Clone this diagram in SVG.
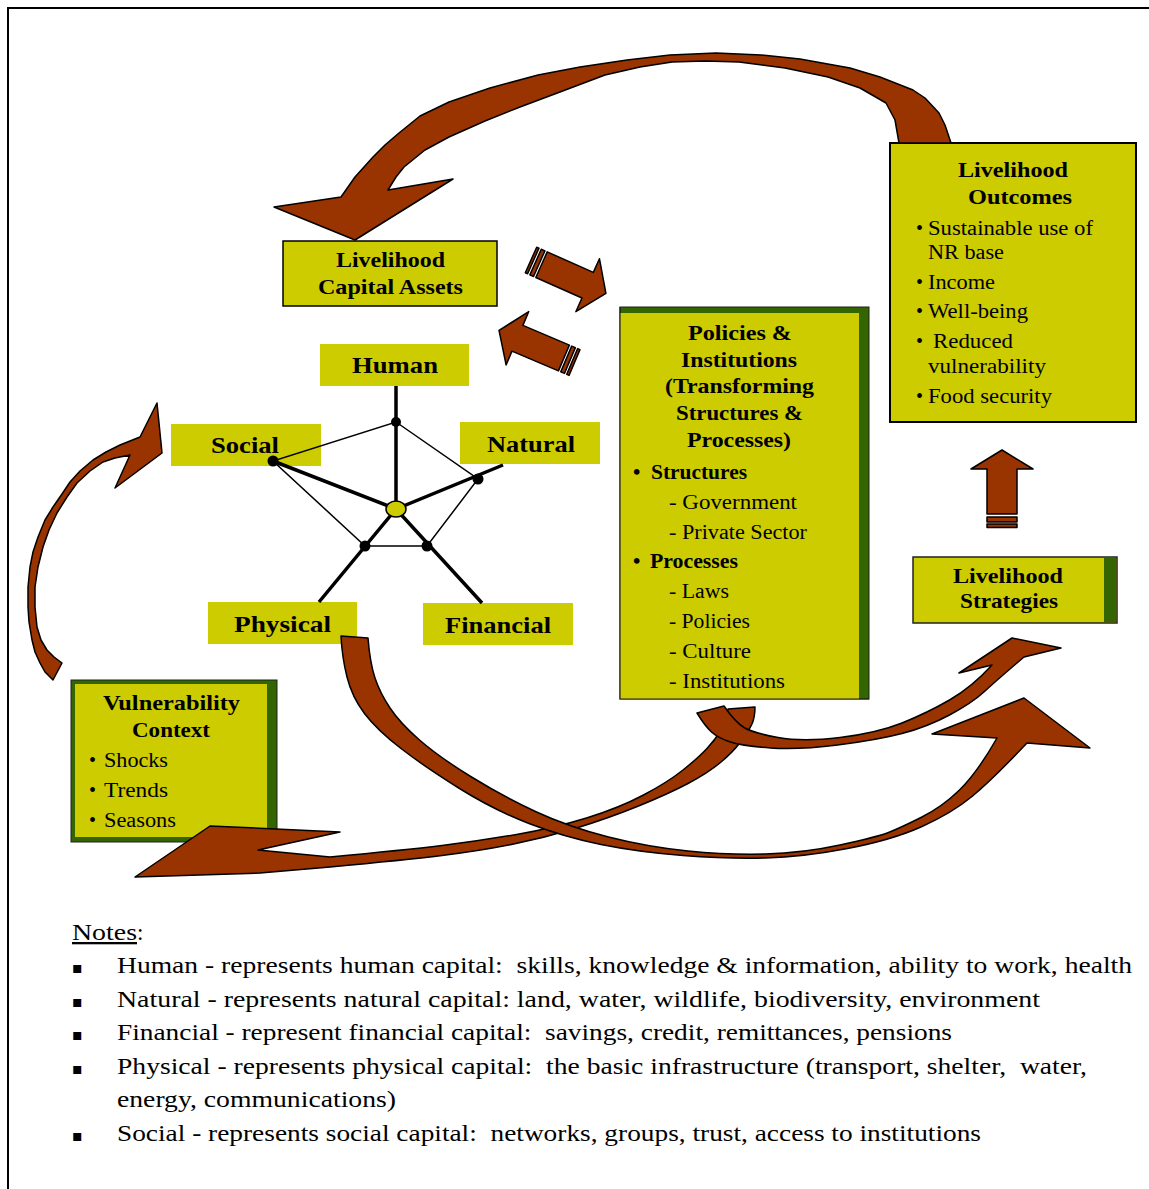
<svg xmlns="http://www.w3.org/2000/svg" width="1149" height="1189" viewBox="0 0 1149 1189">
<style>
.bx{fill:#CCCC00}
.gr{fill:#336600}
.ar{fill:#993300;stroke:#000;stroke-width:1.5;stroke-linejoin:round}
text{font-family:"Liberation Serif","Times New Roman",serif;fill:#000}
.h{font-weight:bold;font-size:21px}
.lab{font-weight:bold;font-size:23px}
.t{font-size:20px}
.n{font-size:23px;white-space:pre}
.bl{font-family:"DejaVu Sans",sans-serif;font-size:16px}
.thick{stroke:#000;stroke-width:3.5;fill:none}
.thin{stroke:#000;stroke-width:1.5;fill:none}
</style>
<rect width="1149" height="1189" fill="#fff"/>
<path d="M8,1189 V8 H1149" fill="none" stroke="#000" stroke-width="2"/>

<g id="capital-assets">
<rect x="283" y="241" width="214" height="65" class="bx" stroke="#000" stroke-width="1.5"/>
<text class="h" x="336" y="267" textLength="109" lengthAdjust="spacingAndGlyphs">Livelihood</text>
<text class="h" x="318" y="294" textLength="145" lengthAdjust="spacingAndGlyphs">Capital Assets</text>
</g>

<g id="human"><rect x="320" y="344" width="149" height="42" class="bx"/><text class="lab" x="352" y="373" textLength="86" lengthAdjust="spacingAndGlyphs">Human</text></g>
<g id="social"><rect x="171" y="424" width="150" height="42" class="bx"/><text class="lab" x="211" y="453" textLength="68" lengthAdjust="spacingAndGlyphs">Social</text></g>
<g id="natural"><rect x="460" y="422" width="140" height="42" class="bx"/><text class="lab" x="487" y="452" textLength="88" lengthAdjust="spacingAndGlyphs">Natural</text></g>
<g id="physical"><rect x="208" y="602" width="149" height="42" class="bx"/><text class="lab" x="234" y="632" textLength="97" lengthAdjust="spacingAndGlyphs">Physical</text></g>
<g id="financial"><rect x="423" y="603" width="150" height="42" class="bx"/><text class="lab" x="445" y="633" textLength="106" lengthAdjust="spacingAndGlyphs">Financial</text></g>

<g id="pentagon">
<path class="thick" d="M396,386 L396,509 M273,461 L396,509 L503,465 M396,509 L319,602 M396,509 L482,603"/>
<polygon class="thin" points="396,422 478,479 427,546 365,546 273,461"/>
<circle cx="396" cy="422" r="5"/>
<circle cx="273" cy="461" r="5.5"/>
<circle cx="478" cy="479" r="5.5"/>
<circle cx="365" cy="546" r="5.5"/>
<circle cx="427" cy="546" r="5.5"/>
<ellipse cx="396" cy="509" rx="10" ry="8" fill="#CCCC00" stroke="#000" stroke-width="1.5"/>
</g>

<g id="policies">
<rect x="620" y="307" width="249" height="392" class="gr" stroke="#222" stroke-width="1"/>
<rect x="620" y="313" width="239" height="386" class="bx"/>
<path d="M620,307 V699 H869" fill="none" stroke="#222" stroke-width="1.2"/>
<text class="h" x="688" y="340" textLength="104" lengthAdjust="spacingAndGlyphs">Policies &amp;</text>
<text class="h" x="681" y="367" textLength="116" lengthAdjust="spacingAndGlyphs">Institutions</text>
<text class="h" x="665" y="393" textLength="149" lengthAdjust="spacingAndGlyphs">(Transforming</text>
<text class="h" x="676" y="420" textLength="127" lengthAdjust="spacingAndGlyphs">Structures &amp;</text>
<text class="h" x="687" y="447" textLength="104" lengthAdjust="spacingAndGlyphs">Processes)</text>
<text class="h" x="633" y="479">•</text>
<text class="h" x="651" y="479" textLength="96" lengthAdjust="spacingAndGlyphs">Structures</text>
<text class="t" x="669" y="509" textLength="128" lengthAdjust="spacingAndGlyphs">- Government</text>
<text class="t" x="669" y="539" textLength="138" lengthAdjust="spacingAndGlyphs">- Private Sector</text>
<text class="h" x="633" y="568">•</text>
<text class="h" x="650" y="568" textLength="88" lengthAdjust="spacingAndGlyphs">Processes</text>
<text class="t" x="669" y="598" textLength="60" lengthAdjust="spacingAndGlyphs">- Laws</text>
<text class="t" x="669" y="628" textLength="81" lengthAdjust="spacingAndGlyphs">- Policies</text>
<text class="t" x="669" y="658" textLength="82" lengthAdjust="spacingAndGlyphs">- Culture</text>
<text class="t" x="669" y="688" textLength="116" lengthAdjust="spacingAndGlyphs">- Institutions</text>
</g>

<g id="outcomes">
<rect x="890" y="143" width="246" height="279" class="bx" stroke="#000" stroke-width="2"/>
<text class="h" x="958" y="177" textLength="110" lengthAdjust="spacingAndGlyphs">Livelihood</text>
<text class="h" x="968" y="204" textLength="104" lengthAdjust="spacingAndGlyphs">Outcomes</text>
<text class="t" x="916" y="235">•</text>
<text class="t" x="928" y="235" textLength="165" lengthAdjust="spacingAndGlyphs">Sustainable use of</text>
<text class="t" x="928" y="259" textLength="76" lengthAdjust="spacingAndGlyphs">NR base</text>
<text class="t" x="916" y="289">•</text>
<text class="t" x="928" y="289" textLength="67" lengthAdjust="spacingAndGlyphs">Income</text>
<text class="t" x="916" y="318">•</text>
<text class="t" x="928" y="318" textLength="100" lengthAdjust="spacingAndGlyphs">Well-being</text>
<text class="t" x="916" y="348">•</text>
<text class="t" x="933" y="348" textLength="80" lengthAdjust="spacingAndGlyphs">Reduced</text>
<text class="t" x="928" y="373" textLength="118" lengthAdjust="spacingAndGlyphs">vulnerability</text>
<text class="t" x="916" y="403">•</text>
<text class="t" x="928" y="403" textLength="124" lengthAdjust="spacingAndGlyphs">Food security</text>
</g>

<g id="strategies">
<rect x="913" y="557" width="204" height="66" class="bx" stroke="#222" stroke-width="1.5"/>
<rect x="1104" y="558" width="12" height="64" class="gr"/>
<text class="h" x="953" y="583" textLength="110" lengthAdjust="spacingAndGlyphs">Livelihood</text>
<text class="h" x="960" y="608" textLength="98" lengthAdjust="spacingAndGlyphs">Strategies</text>
</g>

<g id="vulnerability">
<rect x="71" y="680" width="206" height="162" class="gr" stroke="#222" stroke-width="1"/>
<rect x="75" y="684" width="192" height="153" class="bx"/>
<text class="h" x="103" y="710" textLength="137" lengthAdjust="spacingAndGlyphs">Vulnerability</text>
<text class="h" x="132" y="737" textLength="78" lengthAdjust="spacingAndGlyphs">Context</text>
<text class="t" x="89" y="767">•</text>
<text class="t" x="104" y="767" textLength="64" lengthAdjust="spacingAndGlyphs">Shocks</text>
<text class="t" x="89" y="797">•</text>
<text class="t" x="104" y="797" textLength="64" lengthAdjust="spacingAndGlyphs">Trends</text>
<text class="t" x="89" y="827">•</text>
<text class="t" x="104" y="827" textLength="72" lengthAdjust="spacingAndGlyphs">Seasons</text>
</g>

<g id="connectors">
<path class="ar" d="M951,143 L945,125 L939,113 L925,98 L913,90 L880,77 L850,68 L800,59 L761,55 L716,53 L670,55 L627,60 L580,67 L538,75 L490,88 L449,102 L420,116 L399,133 L385,145 L373,157 L355,177 L341,197 L274,207 L355,240 L453,179 L388,190 L396,177 L404,167 L425,150 L449,137 L485,121 L520,107 L560,92 L605,75 L640,67 L672,62 L705,61 L739,62 L785,68 L828,77 L860,88 L886,103 L895,120 L899,143 Z"/>
<g transform="translate(531,260) rotate(24)">
<rect class="ar" x="0" y="-14" width="2.5" height="28"/>
<rect class="ar" x="5" y="-14" width="4" height="28"/>
<polygon class="ar" points="11.5,-14 62,-14 62,-29 82,0 62,29 62,14 11.5,14"/>
</g>
<g transform="translate(574.5,362.5) rotate(203)">
<rect class="ar" x="0" y="-14" width="2.5" height="28"/>
<rect class="ar" x="5" y="-14" width="4" height="28"/>
<polygon class="ar" points="11.5,-14 62,-14 62,-29 82,0 62,29 62,14 11.5,14"/>
</g>
<rect class="ar" x="987" y="524" width="30" height="3.5"/>
<rect class="ar" x="987" y="517" width="30" height="5"/>
<polygon class="ar" points="987,514 987,469 971,469 1002,450 1033,469 1017,469 1017,514"/>
<path class="ar" d="M53,680 L45,672 L40,663 L35,652 L32,640 L29,622 L28,607 L28,587 L30,567 L33,552 L38,537 L45,520 L53,507 L62,494 L70,482 L80,471 L93,460 L106,452 L120,445 L140,437 L157,403 L162,453 L115,488 L130,455 L115,458 L103,462 L90,471 L77,483 L67,497 L57,513 L49,530 L43,547 L38,567 L35,587 L35,607 L37,627 L41,640 L47,650 L54,657 L62,663 Z"/>
<path class="ar" d="M728,709 Q726,722 720.5,731 Q715,740 706.5,749 Q698,758 683,770 Q668,782 643.5,795 Q619,808 586.5,818 Q554,828 516.5,834.5 Q479,841 442,845.5 Q405,850 330,857 L258,850 L340,832 L210,826 L135,877 L260,873 L330,867 Q405,860 442,855.5 Q479,851 511.5,844.5 Q544,838 576.5,828 Q609,818 638.5,806 Q668,794 688,783.5 Q708,773 720.5,762.5 Q733,752 740.5,742 Q748,732 751.5,725 Q755,718 755,707 Z"/>
<path class="ar" d="M697,713 Q705,726 711.5,732 Q718,738 730.5,742 Q743,746 770.5,748 Q798,750 837.5,745 Q877,740 902,733.5 Q927,727 949.5,715 Q972,703 984.5,691.5 Q997,680 1024,657 L1061,648 L1012,638 L959,673 L992,665 Q972,687 949.5,700 Q927,713 902,723 Q877,733 840,737.5 Q803,742 778,737.5 Q753,733 744,727.5 Q735,722 724,706 Z"/>
<path class="ar" d="M341,636 Q342,657 347,677 Q352,697 364.5,713.5 Q377,730 401,748.5 Q425,767 459.5,788.5 Q494,810 529,823.5 Q564,837 601,844.5 Q638,852 683,855.5 Q728,859 765.5,858 Q803,857 847.5,848.5 Q892,840 922,826.5 Q952,813 972,796.5 Q992,780 1027,743 L1090,748 L1024,698 L932,734 L997,738 Q977,773 959.5,790 Q942,807 921,817.5 Q900,828 888.5,832.5 Q877,837 840,845 Q803,853 765.5,854 Q728,855 688,851 Q648,847 608.5,837 Q569,827 536.5,812 Q504,797 471.5,777 Q439,757 419.5,740 Q400,723 390,708 Q380,693 375,678 Q370,663 368,638 Z"/>
</g>

<g id="notes">
<text class="n" x="72" y="940" textLength="65" lengthAdjust="spacingAndGlyphs" text-decoration="underline">Notes</text>
<text class="n" x="137" y="940">:</text>
<text class="bl" x="72" y="973">▪</text>
<text class="n" x="117" y="973" textLength="1015" lengthAdjust="spacingAndGlyphs">Human - represents human capital:  skills, knowledge &amp; information, ability to work, health</text>
<text class="bl" x="72" y="1007">▪</text>
<text class="n" x="117" y="1007" textLength="923" lengthAdjust="spacingAndGlyphs">Natural - represents natural capital: land, water, wildlife, biodiversity, environment</text>
<text class="bl" x="72" y="1040">▪</text>
<text class="n" x="117" y="1040" textLength="835" lengthAdjust="spacingAndGlyphs">Financial - represent financial capital:  savings, credit, remittances, pensions</text>
<text class="bl" x="72" y="1074">▪</text>
<text class="n" x="117" y="1074" textLength="970" lengthAdjust="spacingAndGlyphs">Physical - represents physical capital:  the basic infrastructure (transport, shelter,  water,</text>
<text class="n" x="117" y="1107" textLength="279" lengthAdjust="spacingAndGlyphs">energy, communications)</text>
<text class="bl" x="72" y="1141">▪</text>
<text class="n" x="117" y="1141" textLength="864" lengthAdjust="spacingAndGlyphs">Social - represents social capital:  networks, groups, trust, access to institutions</text>
</g>
</svg>
